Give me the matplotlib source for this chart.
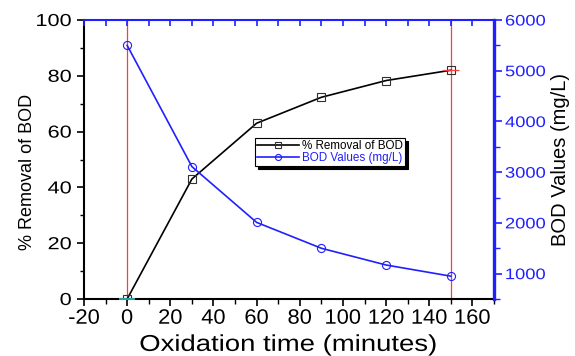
import numpy as np
import matplotlib.pyplot as plt
from matplotlib.ticker import MultipleLocator
from matplotlib.patheffects import AbstractPathEffect
from matplotlib.transforms import Affine2D

plt.rcParams['font.family'] = ['Liberation Sans', 'DejaVu Sans']
plt.rcParams['axes.unicode_minus'] = False

# oxidation time and measured values
time_min = [0, 30, 60, 90, 120, 150]
removal_pct = [0, 43, 63, 72.3, 78.3, 82]
bod_values = [5500, 3110, 2010, 1500, 1170, 950]

blue = '#2020ff'
red = '#ff3b3b'


class HStretch(AbstractPathEffect):
    """Widen glyphs horizontally about a fixed edge of the text."""

    def __init__(self, sx, anchor='center'):
        super().__init__()
        self._sx = sx
        self._anchor = anchor

    def draw_path(self, renderer, gc, tpath, affine, rgbFace=None):
        ext = tpath.get_extents(affine)
        if self._anchor == 'left':
            cx = ext.x0
        elif self._anchor == 'right':
            cx = ext.x1
        else:
            cx = 0.5 * (ext.x0 + ext.x1)
        tr = affine + Affine2D().translate(-cx, 0).scale(self._sx, 1).translate(cx, 0)
        renderer.draw_path(gc, tpath, tr, rgbFace)


fig = plt.figure(figsize=(5.75, 3.56), dpi=100)
ax = fig.add_axes([84/575, 57/356, 410/575, 279/356])
ax2 = ax.twinx()

# reference lines at start and end of oxidation
for xv in (time_min[0], time_min[-1]):
    ax.axvline(xv, color=red, lw=0.9, zorder=1)

l1, = ax.plot(time_min, removal_pct, color='black', lw=1.2, marker='s', ms=6.2,
              mfc='none', mec='#303030', mew=0.8, label='% Removal of BOD', zorder=3)
ax.plot(time_min[-1], removal_pct[-1], marker='_', ms=11, mec=red, mew=0.9, zorder=4)
ax.plot(time_min[0], removal_pct[0], marker='_', ms=11, mec='#30c0c0', mew=1.2,
        zorder=4, clip_on=False)
l2, = ax2.plot(time_min, bod_values, color=blue, lw=1.2, marker='o', ms=5.8,
               mfc='none', mec=blue, mew=0.8, label='BOD Values (mg/L)', zorder=3)

ax.set_xlim(-20, 170)
ax.set_ylim(0, 100)
ax2.set_ylim(500, 6000)

ax.xaxis.set_major_locator(MultipleLocator(20))
ax.xaxis.set_minor_locator(MultipleLocator(10))
ax.yaxis.set_major_locator(MultipleLocator(20))
ax.yaxis.set_minor_locator(MultipleLocator(10))
ax2.yaxis.set_major_locator(MultipleLocator(1000))
ax2.yaxis.set_minor_locator(MultipleLocator(500))

ax.tick_params(axis='x', which='major', direction='out', length=5, width=1.2,
               labelsize=15, pad=2)
ax.tick_params(axis='x', which='minor', direction='out', length=3.5, width=1.0)
ax.tick_params(axis='y', which='major', direction='out', length=5, width=1.2,
               labelsize=12.5, pad=4)
ax.tick_params(axis='y', which='minor', direction='out', length=3, width=1.0)
ax2.tick_params(axis='y', which='major', direction='out', length=6, width=1.2,
                colors=blue, labelsize=11, pad=2)
ax2.tick_params(axis='y', which='minor', direction='out', length=4, width=1.0, colors=blue)

# blue inward ticks along the top edge
ax2.xaxis.set_visible(True)
ax2.tick_params(axis='x', which='both', bottom=False, top=True, labelbottom=False,
                labeltop=False, direction='in', length=4, width=1.2, colors=blue)

for side in ('left', 'bottom'):
    ax.spines[side].set_linewidth(1.5)
    ax.spines[side].set_color('black')
ax2.spines['right'].set_linewidth(2.4)
ax2.spines['right'].set_color(blue)
ax2.spines['top'].set_linewidth(1.5)
ax2.spines['top'].set_color(blue)
ax2.spines['left'].set_visible(False)
ax2.spines['bottom'].set_visible(False)
ax.spines['top'].set_visible(False)
ax.spines['right'].set_visible(False)

ax.set_xlabel('Oxidation time (minutes)', fontsize=16.5, va='baseline')
ax.xaxis.set_label_coords(0.4976, -0.186)
ax.set_ylabel('% Removal of BOD', fontsize=13, va='center')
ax.yaxis.set_label_coords((28 - 84) / 410, 1 - (172 - 20) / 279)
ax2.set_ylabel('BOD Values (mg/L)', fontsize=14.5, va='center')
ax2.yaxis.set_label_coords((560 - 84) / 410, 0.5)

leg = ax2.legend([l1, l2], ['% Removal of BOD', 'BOD Values (mg/L)'],
                 loc='upper left', bbox_to_anchor=(0.417, 0.577), fontsize=8.4,
                 frameon=True, fancybox=False, shadow={'color': 'black', 'alpha': 1},
                 borderpad=0.15, handlelength=3.6, handletextpad=0.3,
                 labelspacing=0.05, borderaxespad=0, markerscale=0.75)
leg.get_frame().set_edgecolor('black')
leg.get_frame().set_linewidth(0.8)
leg.get_texts()[1].set_color(blue)

# widen the horizontal texts once the tick labels exist
fig.canvas.draw()
for t in ax.get_yticklabels():
    t.set_path_effects([HStretch(1.25, 'right')])
for t in ax2.get_yticklabels():
    t.set_path_effects([HStretch(1.2, 'left')])
for t in ax.get_xticklabels():
    t.set_path_effects([HStretch(1.05)])
ax.xaxis.label.set_path_effects([HStretch(1.2)])

fig.savefig('out.png', dpi=100)
